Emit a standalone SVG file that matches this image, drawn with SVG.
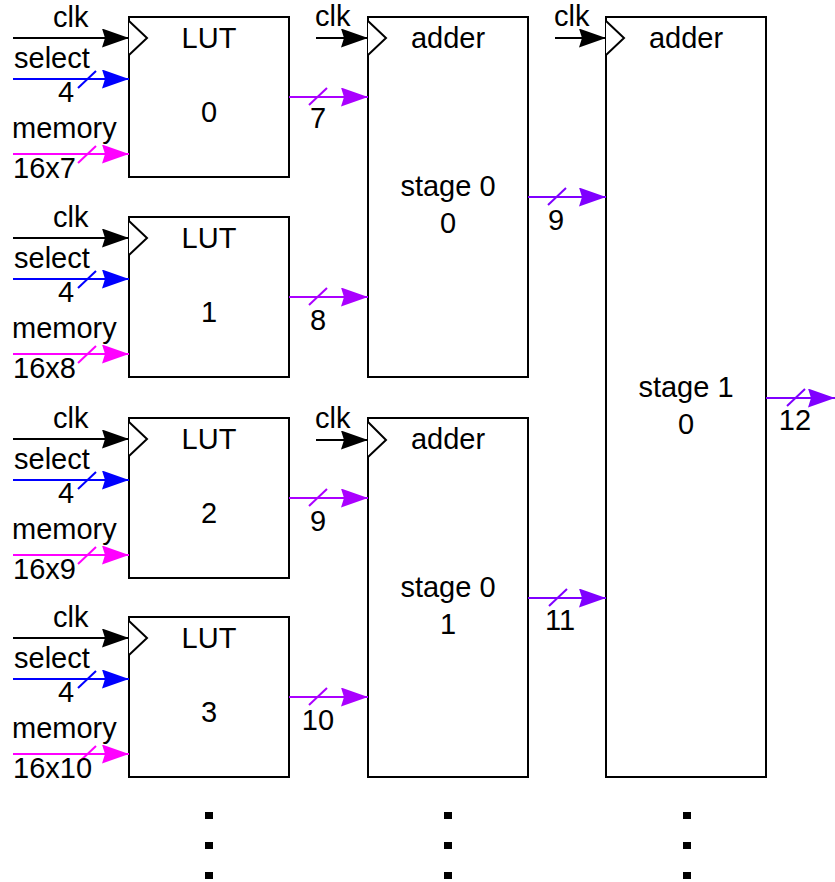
<svg xmlns="http://www.w3.org/2000/svg" width="835" height="882" viewBox="0 0 835 882">
<style>
text{font-family:"Liberation Sans",Arial,sans-serif;font-size:29px;fill:#000}
.m{text-anchor:middle}
.box{fill:#fff;stroke:#000;stroke-width:2}
.clkt{fill:#fff;stroke:#000;stroke-width:2}
.w{fill:none;stroke-width:2}
.k{stroke:#000}
.b{stroke:#0000ff}
.g{stroke:#ff00ff}
.p{stroke:#aa00ff}
.q{stroke:#7f00ff}
.dot{fill:#000}
</style>
<defs>
<marker id="ak" viewBox="0 0 27 19" refX="27" refY="9.5" markerWidth="27" markerHeight="19" markerUnits="userSpaceOnUse" orient="auto"><path d="M0,0 L27,9.5 L0,19 L3,9.5 Z" fill="#000"/></marker>
<marker id="ab" viewBox="0 0 27 19" refX="27" refY="9.5" markerWidth="27" markerHeight="19" markerUnits="userSpaceOnUse" orient="auto"><path d="M0,0 L27,9.5 L0,19 L3,9.5 Z" fill="#0000ff"/></marker>
<marker id="ag" viewBox="0 0 27 19" refX="27" refY="9.5" markerWidth="27" markerHeight="19" markerUnits="userSpaceOnUse" orient="auto"><path d="M0,0 L27,9.5 L0,19 L3,9.5 Z" fill="#ff00ff"/></marker>
<marker id="ap" viewBox="0 0 27 19" refX="27" refY="9.5" markerWidth="27" markerHeight="19" markerUnits="userSpaceOnUse" orient="auto"><path d="M0,0 L27,9.5 L0,19 L3,9.5 Z" fill="#aa00ff"/></marker>
<marker id="aq" viewBox="0 0 27 19" refX="27" refY="9.5" markerWidth="27" markerHeight="19" markerUnits="userSpaceOnUse" orient="auto"><path d="M0,0 L27,9.5 L0,19 L3,9.5 Z" fill="#7f00ff"/></marker>
</defs>
<rect width="835" height="882" fill="#fff"/>

<g id="lut0">
<rect class="box" x="129" y="17" width="160" height="160"/>
<polyline class="clkt" points="129,21 147,38 129,55"/>
<text class="m" x="209" y="48">LUT</text>
<text class="m" x="209" y="122">0</text>
</g>
<g id="lut1" transform="translate(0,200)">
<rect class="box" x="129" y="17" width="160" height="160"/>
<polyline class="clkt" points="129,21 147,38 129,55"/>
<text class="m" x="209" y="48">LUT</text>
<text class="m" x="209" y="122">1</text>
</g>
<g id="lut2" transform="translate(0,401)">
<rect class="box" x="129" y="17" width="160" height="160"/>
<polyline class="clkt" points="129,21 147,38 129,55"/>
<text class="m" x="209" y="48">LUT</text>
<text class="m" x="209" y="122">2</text>
</g>
<g id="lut3" transform="translate(0,600)">
<rect class="box" x="129" y="17" width="160" height="160"/>
<polyline class="clkt" points="129,21 147,38 129,55"/>
<text class="m" x="209" y="48">LUT</text>
<text class="m" x="209" y="122">3</text>
</g>

<g id="adder00">
<rect class="box" x="368" y="17" width="160" height="360"/>
<polyline class="clkt" points="368,21 386,38 368,55"/>
<text class="m" x="448" y="48">adder</text>
<text class="m" x="448" y="196">stage 0</text>
<text class="m" x="448" y="233">0</text>
</g>
<g id="adder01">
<rect class="box" x="368" y="418" width="160" height="359"/>
<polyline class="clkt" points="368,422 386,440 368,457"/>
<text class="m" x="448" y="449">adder</text>
<text class="m" x="448" y="597">stage 0</text>
<text class="m" x="448" y="634">1</text>
</g>
<g id="adder10">
<rect class="box" x="606" y="17" width="160" height="760"/>
<polyline class="clkt" points="606,21 624,38 606,55"/>
<text class="m" x="686" y="48">adder</text>
<text class="m" x="686" y="397">stage 1</text>
<text class="m" x="686" y="434">0</text>
</g>

<g id="connectors">
<g id="lut0-in">
<line class="w k" x1="13" y1="38" x2="129" y2="38" marker-end="url(#ak)"/>
<text x="53" y="27">clk</text>
<line class="w b" x1="13" y1="79" x2="129" y2="79" marker-end="url(#ab)"/>
<line class="w b" x1="78" y1="88" x2="96" y2="71"/>
<text x="14" y="68">select</text>
<text x="58" y="102">4</text>
<line class="w g" x1="13" y1="154" x2="129" y2="154" marker-end="url(#ag)"/>
<line class="w g" x1="78" y1="163" x2="96" y2="146"/>
<text x="12" y="138">memory</text>
<text x="13" y="178">16x7</text>
</g>
<g id="lut1-in" transform="translate(0,200)">
<line class="w k" x1="13" y1="38" x2="129" y2="38" marker-end="url(#ak)"/>
<text x="53" y="27">clk</text>
<line class="w b" x1="13" y1="79" x2="129" y2="79" marker-end="url(#ab)"/>
<line class="w b" x1="78" y1="88" x2="96" y2="71"/>
<text x="14" y="68">select</text>
<text x="58" y="102">4</text>
<line class="w g" x1="13" y1="154" x2="129" y2="154" marker-end="url(#ag)"/>
<line class="w g" x1="78" y1="163" x2="96" y2="146"/>
<text x="12" y="138">memory</text>
<text x="13" y="178">16x8</text>
</g>
<g id="lut2-in" transform="translate(0,401)">
<line class="w k" x1="13" y1="38" x2="129" y2="38" marker-end="url(#ak)"/>
<text x="53" y="27">clk</text>
<line class="w b" x1="13" y1="79" x2="129" y2="79" marker-end="url(#ab)"/>
<line class="w b" x1="78" y1="88" x2="96" y2="71"/>
<text x="14" y="68">select</text>
<text x="58" y="102">4</text>
<line class="w g" x1="13" y1="154" x2="129" y2="154" marker-end="url(#ag)"/>
<line class="w g" x1="78" y1="163" x2="96" y2="146"/>
<text x="12" y="138">memory</text>
<text x="13" y="178">16x9</text>
</g>
<g id="lut3-in" transform="translate(0,600)">
<line class="w k" x1="13" y1="38" x2="129" y2="38" marker-end="url(#ak)"/>
<text x="53" y="27">clk</text>
<line class="w b" x1="13" y1="79" x2="129" y2="79" marker-end="url(#ab)"/>
<line class="w b" x1="78" y1="88" x2="96" y2="71"/>
<text x="14" y="68">select</text>
<text x="58" y="102">4</text>
<line class="w g" x1="13" y1="154" x2="129" y2="154" marker-end="url(#ag)"/>
<line class="w g" x1="78" y1="163" x2="96" y2="146"/>
<text x="12" y="138">memory</text>
<text x="13" y="178">16x10</text>
</g>

<line class="w p" x1="289" y1="97" x2="368" y2="97" marker-end="url(#ap)"/>
<line class="w p" x1="309" y1="105" x2="327" y2="88"/>
<text class="m" x="318" y="128">7</text>
<line class="w p" x1="289" y1="297" x2="368" y2="297" marker-end="url(#ap)"/>
<line class="w p" x1="309" y1="305" x2="327" y2="288"/>
<text class="m" x="318" y="330">8</text>
<line class="w p" x1="289" y1="498" x2="368" y2="498" marker-end="url(#ap)"/>
<line class="w p" x1="309" y1="506" x2="327" y2="489"/>
<text class="m" x="318" y="531">9</text>
<line class="w p" x1="289" y1="697" x2="368" y2="697" marker-end="url(#ap)"/>
<line class="w p" x1="309" y1="705" x2="327" y2="688"/>
<text class="m" x="318" y="730">10</text>

<line class="w k" x1="316" y1="38" x2="368" y2="38" marker-end="url(#ak)"/>
<text x="315" y="26">clk</text>
<line class="w k" x1="316" y1="440" x2="368" y2="440" marker-end="url(#ak)"/>
<text x="315" y="428">clk</text>
<line class="w k" x1="555" y1="38" x2="606" y2="38" marker-end="url(#ak)"/>
<text x="554" y="26">clk</text>

<line class="w q" x1="528" y1="197" x2="606" y2="197" marker-end="url(#aq)"/>
<line class="w q" x1="548" y1="205" x2="566" y2="188"/>
<text class="m" x="556" y="230">9</text>
<line class="w q" x1="528" y1="598" x2="606" y2="598" marker-end="url(#aq)"/>
<line class="w q" x1="549" y1="606" x2="567" y2="589"/>
<text class="m" x="560" y="630">11</text>
<line class="w q" x1="766" y1="398" x2="835" y2="398" marker-end="url(#aq)"/>
<line class="w q" x1="787" y1="406" x2="805" y2="389"/>
<text class="m" x="795" y="430">12</text>
</g>

<g id="ellipsis">
<rect class="dot" x="205" y="812" width="8" height="7"/>
<rect class="dot" x="205" y="842" width="8" height="7"/>
<rect class="dot" x="205" y="872" width="8" height="7"/>
<rect class="dot" x="444" y="812" width="8" height="7"/>
<rect class="dot" x="444" y="842" width="8" height="7"/>
<rect class="dot" x="444" y="872" width="8" height="7"/>
<rect class="dot" x="683" y="812" width="8" height="7"/>
<rect class="dot" x="683" y="842" width="8" height="7"/>
<rect class="dot" x="683" y="872" width="8" height="7"/>
</g>
</svg>
